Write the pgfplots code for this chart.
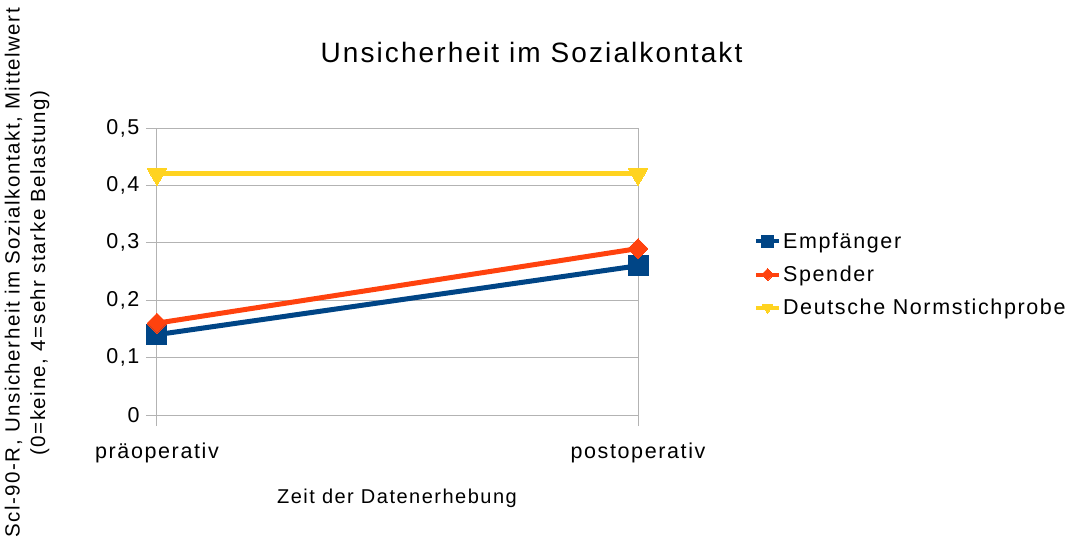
\documentclass[border=0pt]{standalone}
\usepackage{fontspec}
\setmainfont{Liberation Sans}[LetterSpace=7.5]
\usepackage{pgfplots}
\pgfplotsset{compat=1.18}
\definecolor{cblue}{HTML}{004586}
\definecolor{corange}{HTML}{FF420E}
\definecolor{cyellow}{HTML}{FFD320}
\definecolor{cgrid}{HTML}{B3B3B3}
\begin{document}
\begin{tikzpicture}
\path[use as bounding box] (-157pt,-139pt) rectangle (922pt,415pt);
\begin{axis}[
  scale only axis,
  width=481pt, height=287pt,
  xmin=0, xmax=1, ymin=0, ymax=0.5,
  xtick={0,1}, xticklabels={präoperativ, postoperativ},
  ytick={0,0.1,0.2,0.3,0.4,0.5},
  /pgf/number format/assume math mode=true,
  /pgf/number format/use comma,
  /pgf/number format/fixed,
  /pgf/number format/precision=1,
  tick label style={font=\fontsize{21.5}{24}\selectfont, black},
  xticklabel style={yshift=-13pt},
  yticklabel style={xshift=-3pt},
  ymajorgrids,
  grid style={cgrid, line width=1pt},
  axis line style={cgrid, line width=1pt},
  tick style={cgrid, line width=1pt},
  tick align=outside,
  major tick length=11pt,
  xtick pos=bottom, ytick pos=left,
  clip=false,
  legend style={at={(1.241,0.4895)}, anchor=west, draw=none, fill=none,
    inner sep=0pt, font=\fontsize{21.5}{24}\selectfont,
    row sep=12pt,
    /tikz/every even column/.style={column sep=0pt}},
  legend cell align=left,
  legend image code/.code={
    \draw[#1, line width=4pt, mark size=6pt, mark repeat=2, mark phase=2]
      plot coordinates {(0pt,0pt) (11.5pt,0pt) (23pt,0pt)};},
]
\addplot[cblue, line width=5pt, mark=square*, mark size=10pt, mark options={line width=0pt}]
  coordinates {(0,0.14) (1,0.26)};
\addlegendentry{Empfänger}
\addplot[corange, line width=5pt, mark=diamond*, mark size=10pt, mark options={xscale=1.33, line width=0pt}]
  coordinates {(0,0.16) (1,0.29)};
\addlegendentry{Spender}
\addplot[cyellow, line width=5pt, mark=triangle*, mark size=11.5pt, mark options={rotate=180, line width=0pt}]
  coordinates {(0,0.42) (1,0.42)};
\addlegendentry{Deutsche Normstichprobe}
\end{axis}
\node[font=\fontsize{28}{32}\selectfont] at (374.5pt,363pt) {Unsicherheit im Sozialkontakt};
\node[font=\fontsize{20}{23}\selectfont] at (240pt,-83pt) {Zeit der Datenerhebung};
\node[font=\fontsize{20.5}{25.5}\selectfont, rotate=90, align=center] at (-130pt,142pt)
  {Scl-90-R, Unsicherheit im Sozialkontakt, Mittelwert\\(0=keine, 4=sehr starke Belastung)};
\end{tikzpicture}
\end{document}
